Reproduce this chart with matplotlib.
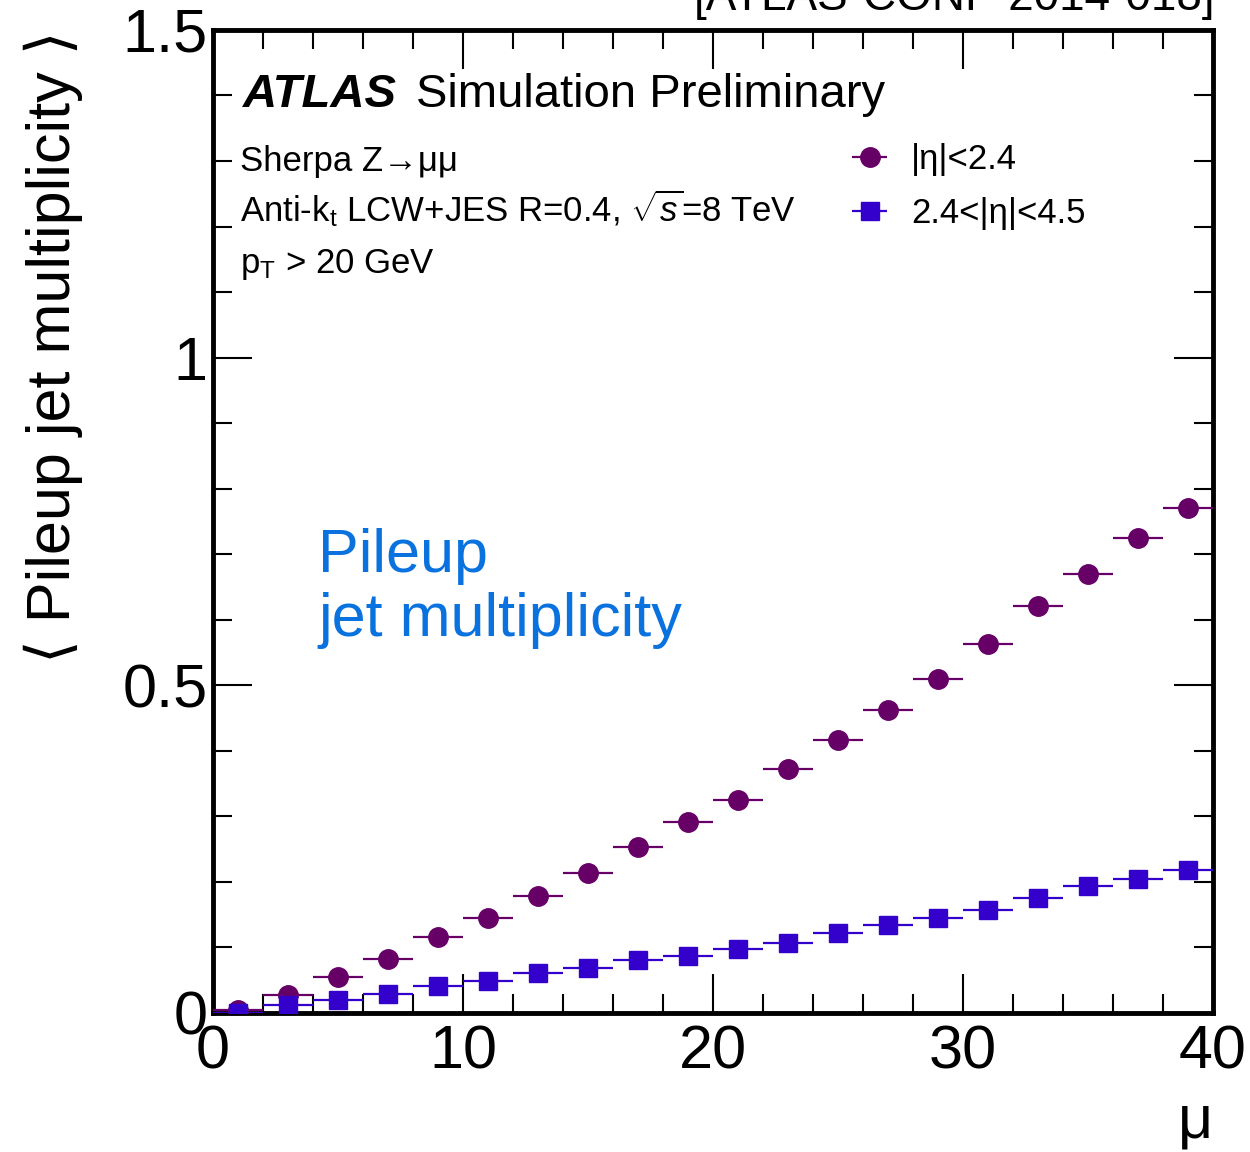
import matplotlib
matplotlib.use("Agg")
import matplotlib.pyplot as plt
from matplotlib.ticker import MultipleLocator, FuncFormatter

# mu bin centres and half widths
mu = [1, 3, 5, 7, 9, 11, 13, 15, 17, 19, 21, 23, 25, 27, 29, 31, 33, 35, 37, 39]
mu_err = [1] * 20

# <N pileup jets> |eta|<2.4
central = [0.005, 0.027, 0.055, 0.082, 0.116, 0.145, 0.179, 0.214, 0.253, 0.292,
           0.325, 0.372, 0.417, 0.463, 0.510, 0.563, 0.621, 0.670, 0.725, 0.771]
# <N pileup jets> 2.4<|eta|<4.5
forward = [0.000, 0.012, 0.020, 0.029, 0.041, 0.049, 0.061, 0.069, 0.081, 0.087,
           0.098, 0.107, 0.122, 0.134, 0.145, 0.157, 0.176, 0.194, 0.205, 0.218]

c_central = "#660066"
c_forward = "#3300cc"

plt.rcParams['font.family'] = ['Liberation Sans', 'DejaVu Sans']
plt.rcParams['mathtext.fontset'] = 'custom'
plt.rcParams['mathtext.rm'] = 'Liberation Sans'
plt.rcParams['mathtext.it'] = 'Liberation Sans:italic'

fig = plt.figure(figsize=(12.5, 11.52), dpi=100)
ax = fig.add_axes([0.1704, 0.1207, 0.8, 0.8533])

ax.errorbar(mu, central, xerr=mu_err, fmt='o', color=c_central, ms=14,
            elinewidth=1.6, capsize=0, label=u'|\u03b7|<2.4', zorder=3)
ax.errorbar(mu, forward, xerr=mu_err, fmt='s', color=c_forward, ms=13.5,
            elinewidth=1.6, capsize=0, label=u'2.4<|\u03b7|<4.5', zorder=3)

ax.set_xlim(0, 40)
ax.set_ylim(0, 1.5)
ax.xaxis.set_major_locator(MultipleLocator(10))
ax.xaxis.set_minor_locator(MultipleLocator(2))
ax.yaxis.set_major_locator(MultipleLocator(0.5))
ax.yaxis.set_minor_locator(MultipleLocator(0.1))
ax.yaxis.set_major_formatter(FuncFormatter(lambda v, p: '%g' % v))
ax.tick_params(which='both', direction='in', top=True, right=True, width=1.5,
               labelsize=44)
ax.tick_params(which='major', length=28)
ax.tick_params(which='minor', length=14)
ax.tick_params(axis='x', pad=8)
ax.tick_params(axis='y', pad=4)
for s in ax.spines.values():
    s.set_linewidth(3.5)

ax.set_ylabel(u'\u27e8 Pileup jet multiplicity \u27e9', fontsize=44,
              loc='top', labelpad=28)
ax.set_xlabel(u'\u03bc', fontsize=44, loc='right', labelpad=9)

# ATLAS label and info text
ax.text(0.03, 0.922, 'ATLAS', transform=ax.transAxes, fontsize=34,
        fontweight='bold', fontstyle='italic', va='baseline')
ax.text(0.203, 0.922, 'Simulation Preliminary', transform=ax.transAxes,
        fontsize=34, va='baseline')
ax.text(0.027, 0.857, u'Sherpa Z\u2192\u03bc\u03bc', transform=ax.transAxes,
        fontsize=25, va='baseline')
ax.text(0.027, 0.805, r'Anti-k$_\mathrm{t}$ LCW+JES R=0.4, $\sqrt{s}$=8 TeV',
        transform=ax.transAxes, fontsize=25, va='baseline')
ax.text(0.027, 0.753, r'p$_\mathrm{T}$ > 20 GeV', transform=ax.transAxes,
        fontsize=25, va='baseline')

ax.text(0.105, 0.383, 'Pileup\njet multiplicity', transform=ax.transAxes,
        fontsize=44, color='#0a72de', va='baseline', linespacing=1.18)

ax.legend(loc='upper left', bbox_to_anchor=(0.615, 0.899), frameon=False,
          fontsize=25, handlelength=1.6, handletextpad=0.4, labelspacing=0.6,
          borderaxespad=0)

fig.text(0.972, 1 - 10 / 1152, '[ATLAS-CONF-2014-018]', fontsize=33,
         ha='right', va='baseline')

fig.savefig('out.png', dpi=100)
